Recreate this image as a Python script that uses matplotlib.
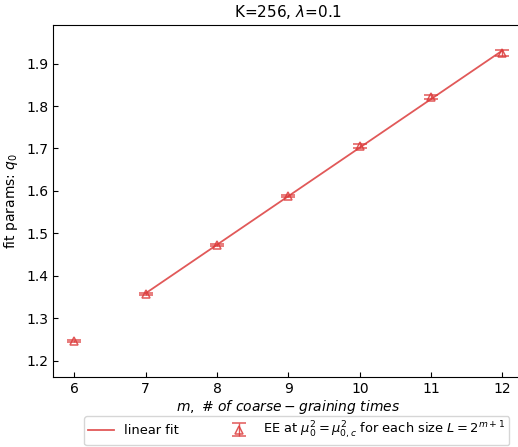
import numpy as np
import matplotlib
matplotlib.use('Agg')
from matplotlib import pyplot as plt

m = np.array([6, 7, 8, 9, 10, 11, 12])
q0 = np.array([1.246, 1.357, 1.472, 1.588, 1.706, 1.821, 1.925])
q0_err = np.array([0.003, 0.003, 0.003, 0.003, 0.004, 0.005, 0.007])
fit_m = m[1:]

red = '#dc3c3c'

fig = plt.figure(figsize=(5.18, 4.47), dpi=100)
ax = fig.add_axes([0.1023, 0.1573, 0.909, 0.7868])

coef = np.polyfit(fit_m, q0[1:], 1)
ax.plot(fit_m, np.polyval(coef, fit_m), color=red, alpha=0.85, lw=1.3, label='linear fit')
ax.errorbar(m, q0, yerr=q0_err, fmt='^', mfc='none', mec=red, ecolor=red, color=red,
            ms=6, mew=1.1, capsize=5, elinewidth=1.0, capthick=1.0, alpha=0.85,
            label=r'EE at $\mu_0^2=\mu_{0,c}^2$ for each size $L=2^{m+1}$')

ax.set_xlim(5.7, 12.3)
ax.set_ylim(1.162, 1.991)
ax.set_xticks(m)
ax.set_yticks([1.2, 1.3, 1.4, 1.5, 1.6, 1.7, 1.8, 1.9])
ax.tick_params(direction='in', labelsize=10)
ax.set_title(r'K=256, $\lambda$=0.1', fontsize=11)
ax.set_xlabel(r'$m,\ \#\ of\ coarse-graining\ times$', fontsize=10, labelpad=2)
ax.set_ylabel(r'fit params: $q_0$', fontsize=10)

fig.legend(loc='upper center', bbox_to_anchor=(0.5725, 0.069), ncol=2, fontsize=9.4,
           columnspacing=3.6, borderaxespad=0, borderpad=0.3)

fig.savefig('out.png', dpi=100)
